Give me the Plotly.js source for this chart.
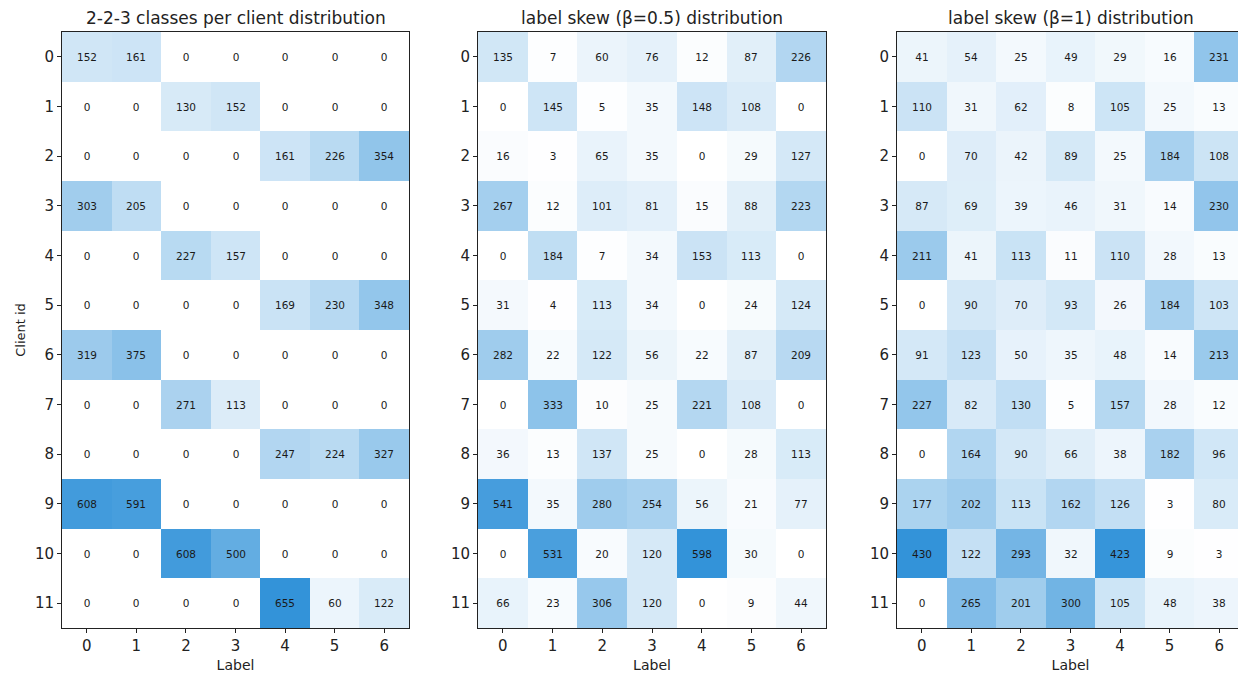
<!DOCTYPE html>
<html>
<head>
<meta charset="utf-8">
<script src="https://cdn.plot.ly/plotly-3.0.1.min.js"></script>
<style>
html,body{margin:0;padding:0;overflow:hidden;background:#fff;}
#chart{width:1250px;height:673px;}
</style>
</head>
<body>
<div id="chart"></div>
<script>
const labels = [0,1,2,3,4,5,6];
const clients = [0,1,2,3,4,5,6,7,8,9,10,11];
const titles = ["2-2-3 classes per client distribution", "label skew (β=0.5) distribution", "label skew (β=1) distribution"];

const classes223 = [
  [152,161,0,0,0,0,0],
  [0,0,130,152,0,0,0],
  [0,0,0,0,161,226,354],
  [303,205,0,0,0,0,0],
  [0,0,227,157,0,0,0],
  [0,0,0,0,169,230,348],
  [319,375,0,0,0,0,0],
  [0,0,271,113,0,0,0],
  [0,0,0,0,247,224,327],
  [608,591,0,0,0,0,0],
  [0,0,608,500,0,0,0],
  [0,0,0,0,655,60,122]
];
const skew05 = [
  [135,7,60,76,12,87,226],
  [0,145,5,35,148,108,0],
  [16,3,65,35,0,29,127],
  [267,12,101,81,15,88,223],
  [0,184,7,34,153,113,0],
  [31,4,113,34,0,24,124],
  [282,22,122,56,22,87,209],
  [0,333,10,25,221,108,0],
  [36,13,137,25,0,28,113],
  [541,35,280,254,56,21,77],
  [0,531,20,120,598,30,0],
  [66,23,306,120,0,9,44]
];
const skew1 = [
  [41,54,25,49,29,16,231],
  [110,31,62,8,105,25,13],
  [0,70,42,89,25,184,108],
  [87,69,39,46,31,14,230],
  [211,41,113,11,110,28,13],
  [0,90,70,93,26,184,103],
  [91,123,50,35,48,14,213],
  [227,82,130,5,157,28,12],
  [0,164,90,66,38,182,96],
  [177,202,113,162,126,3,80],
  [430,122,293,32,423,9,3],
  [0,265,201,300,105,48,38]
];

const W = 1250, H = 673;
const mats = [classes223, skew05, skew1];
const xpx = [[62,409],[478,826],[897,1244]];
const ypx = [32,628];
const cs = [[0,'#ffffff'],[1,'#3393d9']];
const FONT = 'DejaVu Sans, sans-serif';

const data = mats.map((z,i)=>{
  const zmax = Math.max(...z.flat());
  return {
    type:'heatmap', z:z, x:labels, y:clients,
    xaxis: i===0?'x':'x'+(i+1), yaxis: i===0?'y':'y'+(i+1),
    colorscale:cs, zmin:0, zmax:zmax, showscale:false,
    texttemplate:'%{z}', textfont:{size:10.5, color:'#1a1a1a', family:FONT},
    hoverongaps:false
  };
});

const layout = {
  width:W, height:H,
  margin:{l:0,r:0,t:0,b:0},
  paper_bgcolor:'#fff', plot_bgcolor:'#fff',
  font:{family:FONT, color:'#222'},
  annotations:[],
  showlegend:false
};
for(let i=0;i<3;i++){
  const xa = i===0?'xaxis':'xaxis'+(i+1);
  const ya = i===0?'yaxis':'yaxis'+(i+1);
  layout[xa] = {
    domain:[xpx[i][0]/W, xpx[i][1]/W], anchor: i===0?'y':'y'+(i+1),
    range:[-0.5,6.5], tickvals:labels, ticktext:labels.map(String),
    ticks:'outside', ticklen:4, tickcolor:'#222', tickwidth:1,
    showline:true, mirror:true, linecolor:'#222', linewidth:1,
    showgrid:false, zeroline:false, tickfont:{size:15, family:FONT, color:'#222'},
    title:{text:'Label', font:{size:14, family:FONT, color:'#222'}, standoff:6}
  };
  layout[ya] = {
    domain:[1-ypx[1]/H, 1-ypx[0]/H], anchor: i===0?'x':'x'+(i+1),
    range:[11.5,-0.5], tickvals:clients, ticktext:clients.map(String),
    ticks:'outside', ticklen:4, tickcolor:'#222', tickwidth:1,
    showline:true, mirror:true, linecolor:'#222', linewidth:1,
    showgrid:false, zeroline:false, tickfont:{size:15, family:FONT, color:'#222'}
  };
  if(i===0){
    layout[ya].title = {text:'Client id', font:{size:13, family:FONT, color:'#222'}, standoff:6};
  }
  layout.annotations.push({
    text:titles[i], xref:'paper', yref:'paper',
    x:(xpx[i][0]+xpx[i][1])/2/W, y:1-18/H, xanchor:'center', yanchor:'middle',
    showarrow:false, font:{size:17, family:FONT, color:'#222'}
  });
}
Plotly.newPlot('chart', data, layout, {displayModeBar:false, staticPlot:true});
</script>
</body>
</html>
